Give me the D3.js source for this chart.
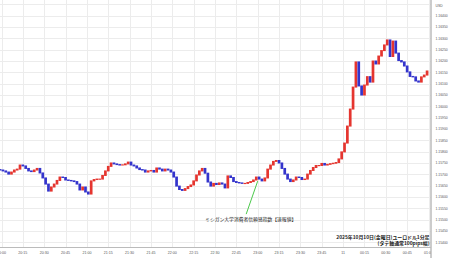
<!DOCTYPE html>
<html><head><meta charset="utf-8">
<script src="https://cdn.jsdelivr.net/npm/d3@7"></script>
<style>html,body{margin:0;padding:0;background:#fff;overflow:hidden}</style>
</head><body><svg id="c" width="450" height="258"></svg>
<script>
// ---- data ----
const candleStart = "2025-10-10T19:59:00";
const candleStepMinutes = 2;
const firstOpen = 1.15721;
const closes = [
1.15719,1.15715,1.15710,1.15701,1.15710,1.15719,1.15723,1.15741,1.15737,1.15726,
1.15715,1.15712,1.15719,1.15726,1.15706,1.15684,1.15657,1.15626,1.15644,1.15657,
1.15673,1.15688,1.15686,1.15675,1.15673,1.15671,1.15668,1.15657,1.15631,1.15644,
1.15622,1.15613,1.15671,1.15677,1.15679,1.15679,1.15695,1.15715,1.15735,1.15750,
1.15746,1.15743,1.15741,1.15742,1.15746,1.15754,1.15741,1.15737,1.15728,1.15721,
1.15719,1.15710,1.15715,1.15717,1.15710,1.15728,1.15723,1.15715,1.15723,1.15719,
1.15710,1.15688,1.15648,1.15633,1.15629,1.15637,1.15646,1.15653,1.15671,1.15697,
1.15715,1.15726,1.15705,1.15666,1.15648,1.15660,1.15655,1.15662,1.15657,1.15640,
1.15693,1.15686,1.15668,1.15664,1.15662,1.15660,1.15660,1.15664,1.15668,1.15675,
1.15688,1.15679,1.15671,1.15684,1.15723,1.15741,1.15757,1.15761,1.15750,1.15726,
1.15701,1.15679,1.15668,1.15675,1.15688,1.15686,1.15677,1.15679,1.15701,1.15717,
1.15730,1.15739,1.15739,1.15748,1.15741,1.15744,1.15747,1.15749,1.15752,1.15768,
1.15799,1.15838,1.15913,1.15988,1.16085,1.16196,1.16090,1.16050,1.16094,1.16131,
1.16107,1.16200,1.16187,1.16222,1.16246,1.16271,1.16293,1.16220,1.16288,1.16235,
1.16202,1.16196,1.16178,1.16152,1.16132,1.16130,1.16112,1.16107,1.16130,1.16138,
1.16156
];
const yTickValues = [1.15400,1.15450,1.15500,1.15550,1.15600,1.15650,1.15700,1.15750,1.15800,1.15850,
  1.15900,1.15950,1.16000,1.16050,1.16100,1.16150,1.16200,1.16250,1.16300,1.16350,1.16400];
const yGridExtra = [1.16450];
const xTickStart = "2025-10-10T20:00:00";
const xTickStepMinutes = 15;
const xTickLabels = ["20:00","20:15","20:30","20:45","21:00","21:15","21:30","21:45","22:00","22:15","22:30",
  "22:45","23:00","23:15","23:30","23:45","11","00:15","00:30","00:45","01:00"];
const currency = "USD";
const eventTime = "2025-10-10T23:00:00";
const eventPrice = 1.15670;
const eventLabel = "ミシガン大学消費者信頼感指数【速報値】";
const noteLines = ["2025年10月10日(金曜日)ユーロドル1分足", "(タテ軸通常100pips幅)"];

// ---- layout ----
const W = 450, H = 258;
const plotRight = 430.5, plotBottom = 247;
const svg = d3.select("#c");
const parse = d3.isoParse;
const t0 = parse(xTickStart);
const tickTimes = xTickLabels.map((d, i) => d3.timeMinute.offset(t0, i * xTickStepMinutes));
const x = d3.scaleTime().domain([tickTimes[0], tickTimes[tickTimes.length - 1]]).range([1.5, 428.5]);
const y = d3.scaleLinear().domain([1.15400, 1.16400]).range([242.3, 15.7]);

svg.append("rect").attr("width", W).attr("height", H).attr("fill", "#fff");

// grid
const grid = svg.append("g").attr("stroke", "#ececec").attr("stroke-width", 1);
grid.selectAll("line.h").data(yTickValues.concat(yGridExtra)).join("line")
  .attr("x1", 0).attr("x2", plotRight).attr("y1", d => Math.round(y(d)) + 0.5).attr("y2", d => Math.round(y(d)) + 0.5);
grid.selectAll("line.v").data(tickTimes).join("line")
  .attr("y1", 0).attr("y2", plotBottom).attr("x1", d => Math.round(x(d)) + 0.5).attr("x2", d => Math.round(x(d)) + 0.5);

// candles
const cStart = parse(candleStart);
const candles = closes.map((c, i) => ({
  t: d3.timeMinute.offset(cStart, i * candleStepMinutes),
  o: i === 0 ? firstOpen : closes[i - 1],
  c
}));
const red = "#e5352f", blue = "#3434cc";
svg.append("g").selectAll("rect").data(candles).join("rect")
  .attr("x", d => x(d.t) - 1.35)
  .attr("width", 2.7)
  .attr("y", d => y(Math.max(d.o, d.c)) - 0.5)
  .attr("height", d => Math.max(1.2, Math.abs(y(d.o) - y(d.c)) + 1))
  .attr("fill", d => d.c >= d.o ? red : blue);

// event annotation
const ex = x(parse(eventTime)), ey = y(eventPrice);
svg.append("line").attr("x1", ex).attr("y1", ey).attr("x2", ex - 11.5).attr("y2", ey + 33)
  .attr("stroke", "#4cc94c").attr("stroke-width", 1);
svg.append("text").attr("x", ex - 7).attr("y", ey + 39.5).attr("text-anchor", "middle")
  .attr("font-family", "Noto Sans CJK JP").attr("font-size", 4.8).attr("fill", "#222").text(eventLabel);

// axes lines
svg.append("line").attr("x1", 0).attr("x2", plotRight).attr("y1", plotBottom + 0.5).attr("y2", plotBottom + 0.5)
  .attr("stroke", "#bbb");
svg.append("line").attr("x1", plotRight + 0.5).attr("x2", plotRight + 0.5).attr("y1", 0).attr("y2", H)
  .attr("stroke", "#999");

// y labels
const yl = svg.append("g").attr("font-family", "Liberation Sans, Arial, sans-serif").attr("font-size", 3.4).attr("fill", "#555");
yl.selectAll("text").data(yTickValues).join("text")
  .attr("x", 435.5).attr("y", d => y(d) + 1.2).text(d => d.toFixed(5));
yl.append("text").attr("x", 435.5).attr("y", 7.4).text(currency);

// x labels (clipped at axis)
svg.append("clipPath").attr("id", "xc").append("rect").attr("x", 0).attr("y", plotBottom).attr("width", plotRight).attr("height", 12);
svg.append("g").attr("clip-path", "url(#xc)")
  .attr("font-family", "Liberation Sans, Arial, sans-serif").attr("font-size", 3.6).attr("fill", "#555")
  .attr("text-anchor", "middle")
  .selectAll("text").data(tickTimes).join("text")
  .attr("x", d => x(d)).attr("y", 253.5).text((d, i) => xTickLabels[i]);

// note
svg.append("g").attr("font-family", "Noto Sans CJK JP").attr("font-size", 4.9).attr("fill", "#222")
  .attr("text-anchor", "end").attr("font-weight", "bold")
  .selectAll("text").data(noteLines).join("text")
  .attr("x", 429.5).attr("y", (d, i) => 238.6 + i * 6.5).text(d => d);
</script></body></html>
